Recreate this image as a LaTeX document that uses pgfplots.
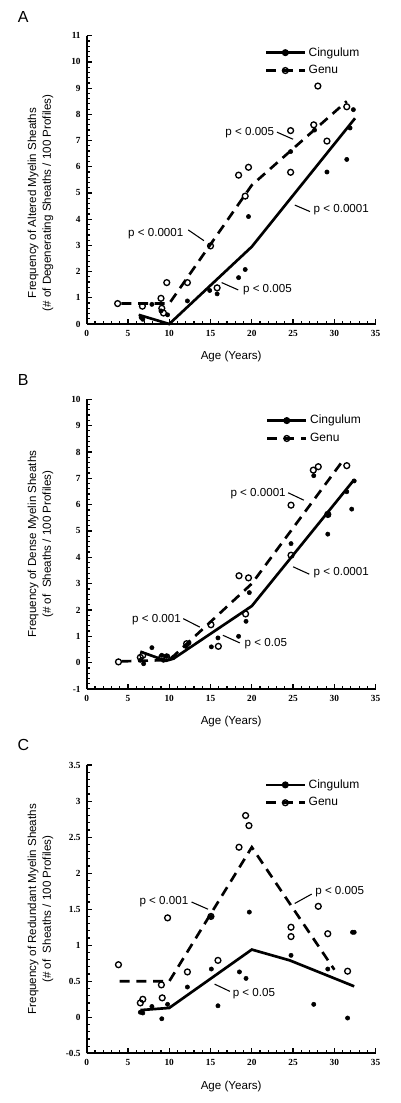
\documentclass[border=0pt]{standalone}
\usepackage{fontspec}
\setmainfont{Liberation Serif}
\newfontfamily\arial{Liberation Sans}
\usepackage{pgfplots}
\pgfplotsset{compat=1.18}

\tikzset{
  ann/.style={font=\arial\fontsize{8.7}{10}\selectfont, inner sep=1pt},
  lead/.style={black, line width=0.8pt},
}
\pgfplotsset{
  panel/.style={
    scale only axis, width=216.75pt, height=216.2pt,
    xmin=0, xmax=35, xtick={0,5,...,35}, minor x tick num=4, minor y tick num=4,
    axis x line*=bottom, axis y line*=left,
    axis line style={line width=1.4pt,-},
    tick align=inside,
    major tick length=4pt, minor tick length=2.2pt,
    tick style={black, line width=0.9pt},
    tick label style={font=\bfseries\fontsize{7}{8}\selectfont},
    /pgf/number format/assume math mode=true,
    xticklabel style={yshift=-1pt},
    yticklabel style={xshift=-1pt},
    label style={font=\arial\fontsize{8.7}{11}\selectfont},
    xlabel={Age (Years)},
    xlabel style={at={(rel axis cs:0.5,0)}, anchor=center, yshift=-24.5pt},
    legend style={draw=none, fill=none, font=\arial\fontsize{9}{10}\selectfont, anchor=north west, row sep=1.5pt, inner sep=0pt},
    legend cell align=left,
    legend image code/.code={\draw[mark repeat=2,mark phase=2,#1] plot coordinates {(0pt,0pt) (14.5pt,0pt) (29pt,0pt)};},
    clip=false,
  },
  cing/.style={only marks, mark=*, mark size=1.6pt, black},
  genu/.style={only marks, mark=o, mark size=2.2pt, black, mark options={line width=1pt}},
  cingline/.style={black, line width=2pt, no marks},
  genuline/.style={black, line width=2pt, dash pattern=on 7.5pt off 5pt, no marks},
}

\begin{document}
\begin{tikzpicture}
\useasboundingbox (0,0) rectangle (300pt,-827.25pt);

%% ---------------- Panel A ----------------
\node[font=\arial\fontsize{12}{12}\selectfont] at (17.5pt,-13pt) {A};
\begin{axis}[panel, at={(65pt,-243pt)}, anchor=south west,
  ymin=0, ymax=11, ytick={0,1,...,11},
  ylabel={Frequency of Altered Myelin Sheaths\\(\# of Degenerating Sheaths / 100 Profiles)},
  ylabel style={at={(rel axis cs:-0.16,0.42)}, anchor=center, align=center},
  legend style={at={(rel axis cs:0.615,0.97)}}]
\addlegendimage{black, line width=2pt, mark=*, mark size=1.6pt}
\addlegendentry{Cingulum}
\addlegendimage{black, line width=2pt, dash pattern=on 7.5pt off 5pt, mark=o, mark size=2.2pt, mark options={solid, line width=1pt, fill=white}}
\addlegendentry{Genu}
\addplot[cingline, forget plot] coordinates {(6.3,0.35) (10,0) (20,2.95) (32.5,7.85)};
\addplot[genuline, forget plot] coordinates {(4.2,0.78) (10,0.78) (20,5.3) (31.5,8.5)};
\addplot[cing, forget plot] coordinates {
(6.6,0.25) (6.8,0.18) (7.9,0.75) (9.0,0.5) (9.8,0.35) (12.2,0.88) (14.9,1.28)
(15.8,1.15) (18.4,1.77) (19.2,2.08) (19.6,4.1) (24.7,6.58) (27.6,7.4) (29.1,5.8)
(31.5,6.28) (31.9,7.48) (32.3,8.18)};
\addplot[genu, forget plot] coordinates {
(3.75,0.78) (6.75,0.68) (9.0,0.98) (9.1,0.6) (9.3,0.42) (9.7,1.58) (12.2,1.58)
(15.0,2.98) (15.8,1.38) (18.4,5.68) (19.2,4.88) (19.6,5.98) (24.7,7.38) (24.7,5.79)
(27.5,7.6) (28.0,9.08) (29.1,6.98) (31.5,8.29)};
\draw[lead] (axis cs:23.05,7.32) -- (axis cs:25.0,7.05);
\node[ann, anchor=east] at (axis cs:22.9,7.32) {p < 0.005};
\draw[lead] (axis cs:25.2,4.54) -- (axis cs:27.05,4.29);
\node[ann, anchor=west] at (axis cs:27.3,4.35) {p < 0.0001};
\draw[lead] (axis cs:12.3,3.59) -- (axis cs:14.2,3.18);
\node[ann, anchor=east] at (axis cs:11.9,3.46) {p < 0.0001};
\draw[lead] (axis cs:16.35,1.58) -- (axis cs:18.36,1.30);
\node[ann, anchor=west] at (axis cs:18.75,1.32) {p < 0.005};
\end{axis}

%% ---------------- Panel B ----------------
\node[font=\arial\fontsize{12}{12}\selectfont] at (17.5pt,-285pt) {B};
\begin{axis}[panel, at={(65pt,-516.75pt)}, anchor=south west, height=217.3pt,
  ymin=-1, ymax=10, ytick={-1,0,...,10},
  ylabel={Frequency of Dense Myelin Sheaths\\(\# of\ \ Sheaths / 100 Profiles)},
  ylabel style={at={(rel axis cs:-0.16,0.5)}, anchor=center, align=center},
  legend style={at={(rel axis cs:0.62,0.955)}}]
\addlegendimage{black, line width=2pt, mark=*, mark size=1.6pt}
\addlegendentry{Cingulum}
\addlegendimage{black, line width=2pt, dash pattern=on 7.5pt off 5pt, mark=o, mark size=2.2pt, mark options={solid, line width=1pt, fill=white}}
\addlegendentry{Genu}
\addplot[cingline, forget plot] coordinates {(6.5,0.42) (9.6,0.07) (10.5,0.15) (20,2.15) (32.4,6.95)};
\addplot[genuline, forget plot] coordinates {(4.2,0.05) (10,0.1) (20,3.0) (31.1,7.7)};
\addplot[cing, forget plot] coordinates {
(6.5,0.09) (6.9,-0.04) (7.9,0.57) (9.1,0.28) (9.3,0.09) (9.7,0.24) (10.5,0.2)
(12.0,0.62) (12.4,0.75) (15.1,0.6) (15.9,0.94) (18.4,1.0) (19.3,1.57) (19.7,2.66)
(24.75,4.52) (27.5,7.1) (29.2,4.88) (29.3,5.6) (31.5,6.49) (32.1,5.83) (32.4,6.9)};
\addplot[genu, forget plot] coordinates {
(3.85,0.03) (6.5,0.2) (6.8,0.28) (9.1,0.21) (9.7,0.22) (12.1,0.72) (15.05,1.44) (15.95,0.62)
(18.45,3.3) (19.6,3.22) (19.25,1.85) (24.75,5.98) (24.75,4.08) (27.45,7.31)
(28.05,7.44) (31.5,7.48) (29.2,5.63)};
\draw[lead] (axis cs:24.4,6.45) -- (axis cs:26.3,6.17);
\node[ann, anchor=east] at (axis cs:24.3,6.43) {p < 0.0001};
\draw[lead] (axis cs:25.0,3.64) -- (axis cs:26.96,3.36);
\node[ann, anchor=west] at (axis cs:27.3,3.41) {p < 0.0001};
\draw[lead] (axis cs:11.7,1.67) -- (axis cs:13.7,1.35);
\node[ann, anchor=east] at (axis cs:11.6,1.63) {p < 0.001};
\draw[lead] (axis cs:16.5,1.04) -- (axis cs:18.55,0.75);
\node[ann, anchor=west] at (axis cs:18.95,0.72) {p < 0.05};
\end{axis}

%% ---------------- Panel C ----------------
\node[font=\arial\fontsize{12}{12}\selectfont] at (17.5pt,-559pt) {C};
\begin{axis}[panel, at={(65pt,-790pt)}, anchor=south west,
  ymin=-0.5, ymax=3.5, ytick={-0.5,0,0.5,1,1.5,2,2.5,3,3.5},
  ylabel={Frequency of Redundant Myelin Sheaths\\(\# of\ \ Sheaths / 100 Profiles)},
  ylabel style={at={(rel axis cs:-0.16,0.5)}, anchor=center, align=center},
  legend style={at={(rel axis cs:0.615,0.96)}}]
\addlegendimage{black, line width=2pt, mark=*, mark size=1.6pt}
\addlegendentry{Cingulum}
\addlegendimage{black, line width=2pt, dash pattern=on 7.5pt off 5pt, mark=o, mark size=2.2pt, mark options={solid, line width=1pt, fill=white}}
\addlegendentry{Genu}
\addplot[cingline, forget plot] coordinates {(6.5,0.1) (10,0.13) (20,0.94) (24.6,0.79) (32.4,0.43)};
\addplot[genuline, forget plot] coordinates {(4,0.5) (10,0.5) (20,2.36) (30,0.66)};
\addplot[cing, forget plot] coordinates {
(6.5,0.07) (6.8,0.06) (7.9,0.15) (9.1,-0.02) (9.8,0.18) (12.2,0.42) (15.05,1.40) (15.1,0.67)
(15.9,0.16) (18.5,0.63) (19.3,0.54) (19.7,1.46) (24.75,0.86) (27.5,0.18) (29.2,0.67)
(31.6,-0.01) (32.2,1.18) (32.4,1.18)};
\addplot[genu, forget plot] coordinates {
(3.85,0.73) (6.5,0.2) (6.8,0.25) (9.05,0.45) (9.15,0.27) (9.8,1.38) (12.2,0.63)
(15.05,1.40) (15.9,0.79) (18.45,2.36) (19.25,2.80) (19.65,2.66) (24.75,1.25)
(24.75,1.12) (28.05,1.54) (29.2,1.16) (31.6,0.64)};
\draw[lead] (axis cs:12.7,1.60) -- (axis cs:14.7,1.50);
\node[ann, anchor=east] at (axis cs:12.5,1.61) {p < 0.001};
\draw[lead] (axis cs:25.2,1.58) -- (axis cs:27.25,1.71);
\node[ann, anchor=west] at (axis cs:27.5,1.75) {p < 0.005};
\draw[lead] (axis cs:15.5,0.46) -- (axis cs:17.35,0.36);
\node[ann, anchor=west] at (axis cs:17.5,0.33) {p < 0.05};
\end{axis}
\end{tikzpicture}
\end{document}
